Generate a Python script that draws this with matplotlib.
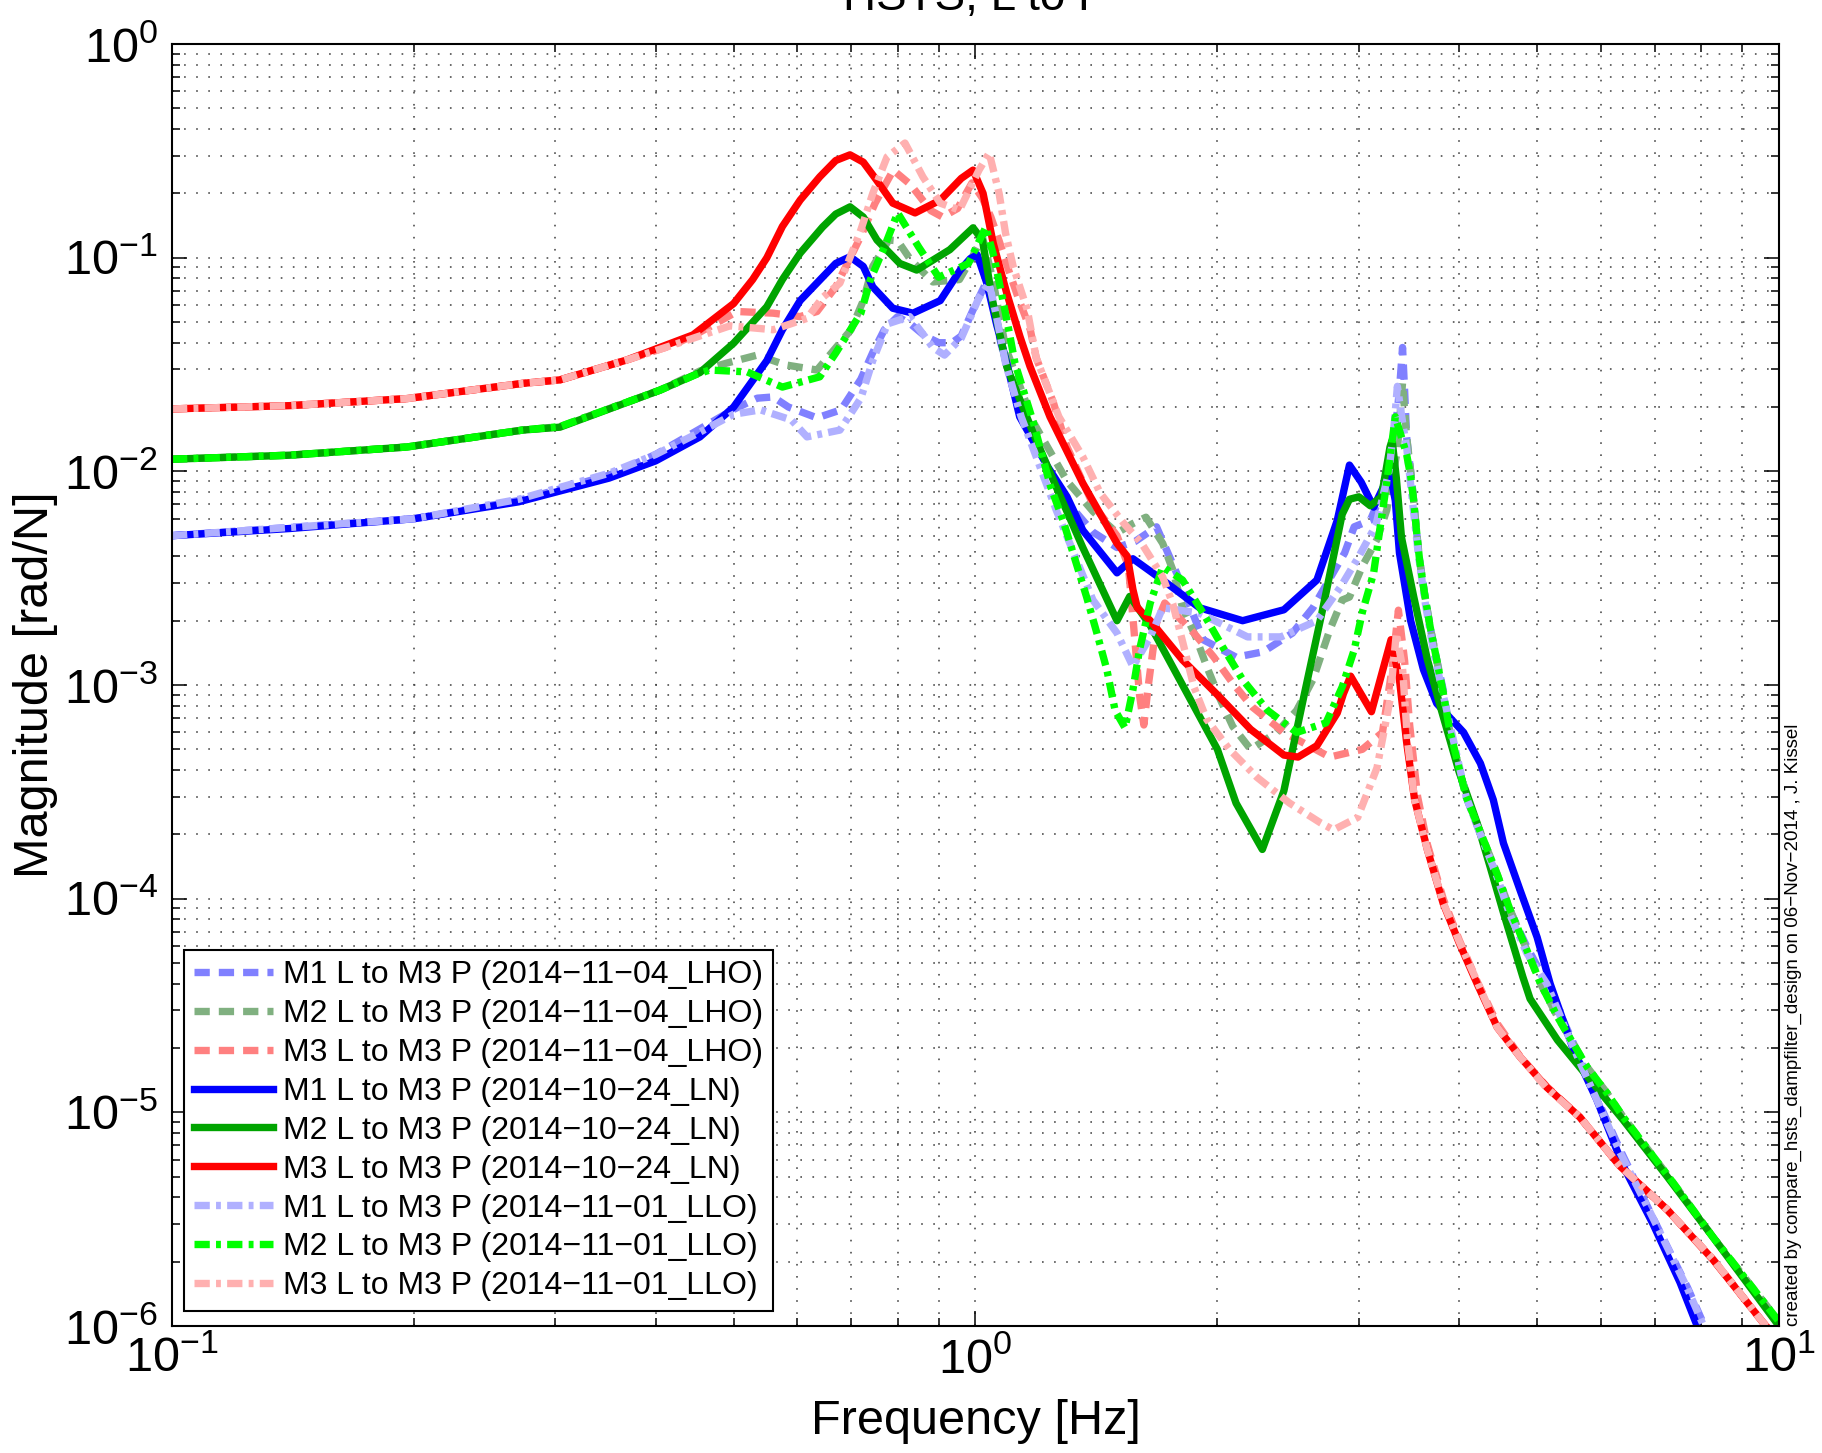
import matplotlib
matplotlib.use('Agg')
import matplotlib.pyplot as plt
from matplotlib.ticker import LogLocator, NullFormatter

plt.rcParams['font.family'] = ['Liberation Sans', 'DejaVu Sans']
plt.rcParams['mathtext.fontset'] = 'custom'
plt.rcParams['mathtext.rm'] = 'Liberation Sans'
plt.rcParams['lines.scale_dashes'] = False

# ---- data (frequency [Hz], magnitude [rad/N]) ----
# M1 L to M3 P (2014-10-24_LN)  -- solid blue
f_m1_ln = [0.10, 0.14, 0.20, 0.27, 0.35, 0.40, 0.454, 0.50, 0.55, 0.575, 0.605, 0.645, 0.67, 0.698, 0.725,
           0.745, 0.789, 0.836, 0.904, 0.957, 0.985, 1.005, 1.033, 1.062, 1.094, 1.135, 1.23, 1.30, 1.36,
           1.50, 1.57, 1.73, 1.90, 2.15, 2.42, 2.66, 2.82, 2.92, 3.02, 3.13, 3.28, 3.33, 3.37, 3.48, 3.61,
           3.75, 4.05, 4.25, 4.41, 4.54, 4.76, 5.00, 5.19, 5.55, 5.93, 6.40, 6.97, 7.53, 7.91, 8.3]
m_m1_ln = [5.0e-3, 5.4e-3, 6.0e-3, 7.2e-3, 9.3e-3, 1.12e-2, 1.45e-2, 2.0e-2, 3.3e-2, 4.6e-2, 6.3e-2, 8.1e-2,
           9.4e-2, 0.101, 0.091, 0.073, 0.058, 0.055, 0.063, 0.0875, 0.099, 0.103, 0.076, 0.049, 0.032, 0.018,
           0.0105, 7.6e-3, 5.3e-3, 3.35e-3, 3.9e-3, 3.0e-3, 2.3e-3, 2.0e-3, 2.25e-3, 3.1e-3, 5.9e-3, 1.07e-2,
           8.9e-3, 6.8e-3, 9.8e-3, 7.3e-3, 4.15e-3, 2.0e-3, 1.18e-3, 8.2e-4, 6.0e-4, 4.3e-4, 2.9e-4, 1.82e-4,
           1.1e-4, 6.6e-5, 4.0e-5, 1.96e-5, 1.15e-5, 5.6e-6, 3.0e-6, 1.6e-6, 1.0e-6, 6.8e-7]

# M2 L to M3 P (2014-10-24_LN)  -- solid green
f_m2_ln = [0.10, 0.14, 0.196, 0.273, 0.304, 0.405, 0.454, 0.50, 0.55, 0.575, 0.605, 0.645, 0.67, 0.698,
           0.725, 0.754, 0.805, 0.845, 0.929, 0.993, 1.02, 1.05, 1.094, 1.18, 1.27, 1.36, 1.50, 1.556, 1.65,
           1.81, 2.0, 2.11, 2.275, 2.42, 2.56, 2.70, 2.86, 2.92, 3.0, 3.10, 3.20, 3.28, 3.30, 3.34, 3.39,
           3.51, 3.65, 3.79, 4.0, 4.21, 4.37, 4.54, 4.80, 4.90, 5.30, 5.82, 6.40, 7.26, 8.28, 10.0]
m_m2_ln = [1.14e-2, 1.19e-2, 1.30e-2, 1.56e-2, 1.61e-2, 2.4e-2, 2.9e-2, 3.98e-2, 5.9e-2, 7.9e-2, 0.105, 0.139,
           0.160, 0.173, 0.155, 0.121, 0.094, 0.0875, 0.109, 0.138, 0.121, 0.063, 0.0308, 0.0151, 7.9e-3,
           4.4e-3, 2.0e-3, 2.6e-3, 1.9e-3, 1.0e-3, 5.0e-4, 2.8e-4, 1.7e-4, 3.2e-4, 8.7e-4, 2.2e-3, 6.3e-3,
           7.4e-3, 7.6e-3, 6.9e-3, 7.6e-3, 1.3e-2, 1.4e-2, 9.3e-3, 4.9e-3, 2.6e-3, 1.32e-3, 7.9e-4, 3.9e-4,
           2.26e-4, 1.41e-4, 8.6e-5, 4.3e-5, 3.4e-5, 2.18e-5, 1.42e-5, 9.2e-6, 5.0e-6, 2.6e-6, 1.0e-6]

# M3 L to M3 P (2014-10-24_LN)  -- solid red
f_m3_ln = [0.10, 0.14, 0.196, 0.273, 0.304, 0.368, 0.445, 0.50, 0.528, 0.55, 0.575, 0.605, 0.64, 0.67,
           0.698, 0.725, 0.753, 0.789, 0.841, 0.904, 0.96, 0.993, 1.022, 1.052, 1.094, 1.136, 1.169, 1.238,
           1.36, 1.50, 1.545, 1.57, 1.59, 1.65, 1.81, 2.0, 2.2, 2.42, 2.52, 2.66, 2.82, 2.87, 2.93, 3.11,
           3.29, 3.37, 3.44, 3.52, 3.65, 3.82, 4.0, 4.21, 4.46, 4.76, 5.14, 5.65, 6.34, 7.26, 8.28, 9.55, 10.0]
m_m3_ln = [1.96e-2, 2.03e-2, 2.19e-2, 2.58e-2, 2.68e-2, 3.32e-2, 4.35e-2, 6.1e-2, 7.9e-2, 0.10, 0.14, 0.186,
           0.239, 0.285, 0.303, 0.28, 0.231, 0.18, 0.162, 0.186, 0.235, 0.257, 0.20, 0.117, 0.068, 0.0427,
           0.031, 0.018, 8.8e-3, 4.6e-3, 4.0e-3, 2.8e-3, 2.3e-3, 2.0e-3, 1.31e-3, 9.0e-4, 6.2e-4, 4.7e-4,
           4.6e-4, 5.2e-4, 7.4e-4, 9.1e-4, 1.1e-3, 7.5e-4, 1.63e-3, 1.06e-3, 5.4e-4, 2.9e-4, 1.7e-4, 9.5e-5,
           6.2e-5, 4.0e-5, 2.5e-5, 1.82e-5, 1.31e-5, 9.5e-6, 5.6e-6, 3.5e-6, 2.04e-6, 1.04e-6, 0.85e-6]

# M1 L to M3 P (2014-11-04_LHO)  -- dashed
f_m1_lho = [0.10, 0.20, 0.27, 0.35, 0.40, 0.45, 0.50, 0.535, 0.56, 0.585, 0.635, 0.68, 0.72, 0.745, 0.77,
            0.80, 0.83, 0.865, 0.90, 0.935, 0.96, 0.993, 1.03, 1.05, 1.075, 1.10, 1.14, 1.23, 1.30, 1.40,
            1.50, 1.58, 1.68, 1.795, 1.92, 2.11, 2.28, 2.48, 2.63, 2.88, 2.96, 3.10, 3.25, 3.33, 3.37, 3.40,
            3.42, 3.44, 3.48, 3.51, 3.54, 3.57, 3.62, 3.68, 3.75, 3.82, 3.89, 4.08, 4.25, 4.46, 4.62, 4.85,
            5.14, 5.55, 5.77, 6.34, 6.97, 7.69, 8.04, 8.4]
m_m1_lho = [5.0e-3, 6.0e-3, 7.3e-3, 9.6e-3, 1.2e-2, 1.55e-2, 1.95e-2, 2.2e-2, 2.23e-2, 2.0e-2, 1.78e-2,
            1.94e-2, 2.7e-2, 3.6e-2, 4.6e-2, 5.3e-2, 4.9e-2, 4.3e-2, 4.0e-2, 4.0e-2, 4.3e-2, 5.7e-2, 7.6e-2,
            6.2e-2, 4.0e-2, 2.9e-2, 1.9e-2, 1.05e-2, 7.2e-3, 5.2e-3, 4.4e-3, 4.7e-3, 5.5e-3, 3.1e-3, 1.63e-3,
            1.35e-3, 1.43e-3, 1.75e-3, 2.3e-3, 4.15e-3, 5.5e-3, 5.9e-3, 9.0e-3, 1.56e-2, 2.4e-2, 3.8e-2,
            2.4e-2, 1.45e-2, 1.0e-2, 7.3e-3, 5.2e-3, 3.85e-3, 2.7e-3, 1.87e-3, 1.31e-3, 9.5e-4, 6.0e-4,
            3.0e-4, 2.0e-4, 1.26e-4, 8.9e-5, 6.0e-5, 4.0e-5, 2.1e-5, 1.47e-5, 6.7e-6, 3.2e-6, 1.52e-6,
            1.04e-6, 7.0e-7]

# M2 L to M3 P (2014-11-04_LHO)  -- dashed
f_m2_lho = [0.10, 0.14, 0.196, 0.273, 0.304, 0.405, 0.454, 0.49, 0.535, 0.58, 0.635, 0.70, 0.725, 0.745,
            0.78, 0.80, 0.83, 0.885, 0.955, 0.99, 1.02, 1.05, 1.09, 1.18, 1.30, 1.40, 1.50, 1.57, 1.63, 1.71,
            1.76, 1.81, 1.88, 1.94, 2.01, 2.09, 2.20, 2.37, 2.51, 2.63, 2.76, 2.86, 2.92, 3.03, 3.16, 3.25,
            3.35, 3.40, 3.44, 3.48, 3.51, 3.54, 3.57, 3.62, 3.68, 3.75, 3.82, 3.89, 4.08, 4.25, 4.46, 4.62,
            4.85, 5.05, 5.30, 5.77, 6.11, 6.40, 7.26, 8.28, 10.0]
m_m2_lho = [1.14e-2, 1.19e-2, 1.30e-2, 1.56e-2, 1.62e-2, 2.4e-2, 2.95e-2, 3.21e-2, 3.5e-2, 3.15e-2, 2.98e-2,
            4.6e-2, 6.3e-2, 9.1e-2, 0.121, 0.12, 9.8e-2, 7.7e-2, 7.9e-2, 0.10, 0.125, 8.0e-2, 3.8e-2, 1.7e-2,
            9.0e-3, 6.5e-3, 5.15e-3, 5.7e-3, 6.1e-3, 4.6e-3, 3.46e-3, 2.3e-3, 1.68e-3, 1.22e-3, 8.8e-4,
            6.4e-4, 5.0e-4, 6.0e-4, 7.6e-4, 1.06e-3, 1.81e-3, 2.5e-3, 2.58e-3, 3.6e-3, 4.8e-3, 6.6e-3,
            1.26e-2, 2.6e-2, 1.45e-2, 1.0e-2, 7.3e-3, 5.2e-3, 3.85e-3, 2.7e-3, 1.87e-3, 1.31e-3, 9.2e-4,
            6.2e-4, 3.0e-4, 2.05e-4, 1.3e-4, 9.0e-5, 5.8e-5, 4.0e-5, 2.8e-5, 1.63e-5, 1.23e-5, 9.5e-6,
            5.1e-6, 2.6e-6, 1.05e-6]

# M3 L to M3 P (2014-11-04_LHO)  -- dashed
f_m3_lho = [0.10, 0.14, 0.196, 0.273, 0.304, 0.368, 0.42, 0.45, 0.505, 0.56, 0.605, 0.635, 0.67, 0.72,
            0.75, 0.79, 0.83, 0.88, 0.91, 0.95, 0.99, 1.02, 1.045, 1.07, 1.10, 1.13, 1.17, 1.19, 1.25, 1.30,
            1.40, 1.50, 1.55, 1.575, 1.60, 1.62, 1.64, 1.68, 1.72, 1.87, 1.98, 2.09, 2.21, 2.42, 2.76, 3.03,
            3.21, 3.30, 3.36, 3.42, 3.47, 3.55, 3.65, 3.82, 4.0, 4.21, 4.46, 4.76, 5.14, 5.65, 6.34, 7.26,
            8.28, 9.55, 10.0]
m_m3_lho = [1.96e-2, 2.03e-2, 2.19e-2, 2.58e-2, 2.68e-2, 3.32e-2, 3.9e-2, 4.4e-2, 5.6e-2, 5.5e-2, 5.3e-2,
            5.6e-2, 7.3e-2, 0.126, 0.18, 0.257, 0.22, 0.166, 0.155, 0.17, 0.224, 0.19, 0.155, 0.12, 8.7e-2,
            6.5e-2, 4.6e-2, 3.4e-2, 2.1e-2, 1.3e-2, 7.0e-3, 5.0e-3, 3.6e-3, 1.8e-3, 9.0e-4, 6.5e-4, 9.8e-4,
            1.95e-3, 2.42e-3, 1.75e-3, 1.35e-3, 1.02e-3, 7.9e-4, 6.0e-4, 4.6e-4, 5.0e-4, 6.0e-4, 1.2e-3,
            2.24e-3, 1.3e-3, 6.5e-4, 3.0e-4, 1.8e-4, 1.0e-4, 6.4e-5, 4.1e-5, 2.6e-5, 1.83e-5, 1.32e-5,
            9.5e-6, 5.6e-6, 3.5e-6, 2.05e-6, 1.04e-6, 0.85e-6]

# M1 L to M3 P (2014-11-01_LLO)  -- dash-dot
f_m1_llo = [0.10, 0.20, 0.27, 0.35, 0.40, 0.45, 0.50, 0.54, 0.59, 0.617, 0.678, 0.72, 0.745, 0.777, 0.828,
            0.86, 0.885, 0.915, 0.96, 1.01, 1.04, 1.06, 1.09, 1.14, 1.26, 1.40, 1.50, 1.57, 1.65, 1.71, 1.90,
            2.18, 2.40, 2.66, 2.85, 3.0, 3.15, 3.27, 3.32, 3.35, 3.40, 3.44, 3.50, 3.56, 3.63, 3.72, 3.85,
            4.08, 4.25, 4.46, 4.62, 4.85, 5.14, 5.55, 5.90, 6.34, 6.97, 7.69, 8.04, 8.4]
m_m1_llo = [5.0e-3, 6.0e-3, 7.4e-3, 9.8e-3, 1.2e-2, 1.5e-2, 1.85e-2, 1.94e-2, 1.74e-2, 1.45e-2, 1.56e-2,
            2.2e-2, 3.3e-2, 4.9e-2, 5.3e-2, 4.4e-2, 3.8e-2, 3.5e-2, 4.2e-2, 6.5e-2, 7.6e-2, 5.5e-2, 3.2e-2,
            1.8e-2, 6.6e-3, 2.5e-3, 1.75e-3, 1.22e-3, 1.68e-3, 2.3e-3, 2.17e-3, 1.68e-3, 1.68e-3, 2.0e-3,
            2.9e-3, 4.0e-3, 5.6e-3, 1.0e-2, 1.66e-2, 2.5e-2, 1.7e-2, 1.3e-2, 7.1e-3, 4.0e-3, 2.4e-3, 1.41e-3,
            7.9e-4, 3.0e-4, 2.0e-4, 1.26e-4, 8.5e-5, 5.6e-5, 4.0e-5, 2.0e-5, 1.2e-5, 6.5e-6, 3.2e-6, 1.5e-6,
            1.02e-6, 7.0e-7]

# M2 L to M3 P (2014-11-01_LLO)  -- dash-dot
f_m2_llo = [0.10, 0.14, 0.196, 0.273, 0.304, 0.405, 0.45, 0.467, 0.52, 0.575, 0.64, 0.67, 0.72, 0.74, 0.77,
            0.80, 0.85, 0.90, 0.98, 1.03, 1.055, 1.08, 1.10, 1.12, 1.18, 1.24, 1.285, 1.375, 1.416, 1.457,
            1.492, 1.535, 1.57, 1.60, 1.65, 1.71, 1.81, 1.92, 2.03, 2.15, 2.31, 2.51, 2.73, 2.86, 2.96, 3.03,
            3.13, 3.18, 3.25, 3.33, 3.38, 3.44, 3.48, 3.51, 3.54, 3.57, 3.62, 3.68, 3.75, 3.82, 3.89, 4.08,
            4.25, 4.46, 4.62, 4.85, 5.05, 5.30, 5.77, 6.11, 6.40, 7.26, 8.28, 10.0]
m_m2_llo = [1.14e-2, 1.19e-2, 1.30e-2, 1.56e-2, 1.62e-2, 2.4e-2, 2.85e-2, 2.98e-2, 2.92e-2, 2.48e-2, 2.77e-2,
            3.58e-2, 5.5e-2, 7.9e-2, 0.112, 0.162, 0.112, 8.1e-2, 9.4e-2, 0.139, 0.10, 6.5e-2, 4.6e-2, 3.2e-2,
            1.7e-2, 8.5e-3, 5.9e-3, 2.58e-3, 1.75e-3, 1.18e-3, 7.6e-4, 6.3e-4, 9.5e-4, 1.46e-3, 2.42e-3,
            3.57e-3, 3.1e-3, 2.17e-3, 1.51e-3, 1.06e-3, 7.6e-4, 6.0e-4, 6.65e-4, 9.8e-4, 1.46e-3, 2.19e-3,
            3.35e-3, 5.1e-3, 8.9e-3, 1.8e-2, 1.5e-2, 1.2e-2, 9.5e-3, 7.3e-3, 5.2e-3, 3.85e-3, 2.7e-3, 1.87e-3,
            1.31e-3, 9.2e-4, 6.2e-4, 3.0e-4, 2.05e-4, 1.3e-4, 9.0e-5, 5.8e-5, 4.0e-5, 2.8e-5, 1.63e-5,
            1.23e-5, 9.5e-6, 5.1e-6, 2.6e-6, 1.05e-6]

# M3 L to M3 P (2014-11-01_LLO)  -- dash-dot
f_m3_llo = [0.10, 0.14, 0.196, 0.273, 0.304, 0.368, 0.42, 0.495, 0.56, 0.617, 0.645, 0.678, 0.72, 0.745,
            0.776, 0.817, 0.86, 0.904, 0.955, 1.01, 1.04, 1.07, 1.09, 1.114, 1.16, 1.19, 1.27, 1.36, 1.43,
            1.53, 1.61, 1.71, 1.76, 1.81, 1.87, 1.94, 2.07, 2.24, 2.46, 2.69, 2.79, 2.99, 3.16, 3.28, 3.34,
            3.40, 3.45, 3.52, 3.65, 3.82, 4.0, 4.21, 4.46, 4.76, 5.14, 5.65, 6.34, 7.26, 8.28, 9.55, 10.0]
m_m3_llo = [1.96e-2, 2.03e-2, 2.19e-2, 2.58e-2, 2.68e-2, 3.32e-2, 3.9e-2, 4.8e-2, 4.6e-2, 5.2e-2, 6.5e-2,
            7.6e-2, 0.135, 0.20, 0.296, 0.344, 0.239, 0.18, 0.167, 0.257, 0.309, 0.20, 0.13, 9.1e-2, 5.7e-2,
            3.4e-2, 1.8e-2, 1.17e-2, 7.9e-3, 5.7e-3, 4.6e-3, 3.2e-3, 2.4e-3, 1.6e-3, 9.8e-4, 6.9e-4, 5.0e-4,
            3.7e-4, 2.8e-4, 2.26e-4, 2.1e-4, 2.4e-4, 4.1e-4, 8.5e-4, 1.75e-3, 1.2e-3, 5.4e-4, 2.9e-4, 1.7e-4,
            9.6e-5, 6.3e-5, 4.1e-5, 2.5e-5, 1.82e-5, 1.3e-5, 9.5e-6, 5.6e-6, 3.5e-6, 2.05e-6, 1.04e-6, 0.85e-6]

labels_lho = ['M1 L to M3 P (2014\u221211\u221204_LHO)', 'M2 L to M3 P (2014\u221211\u221204_LHO)',
              'M3 L to M3 P (2014\u221211\u221204_LHO)']
labels_ln = ['M1 L to M3 P (2014\u221210\u221224_LN)', 'M2 L to M3 P (2014\u221210\u221224_LN)',
             'M3 L to M3 P (2014\u221210\u221224_LN)']
labels_llo = ['M1 L to M3 P (2014\u221211\u221201_LLO)', 'M2 L to M3 P (2014\u221211\u221201_LLO)',
              'M3 L to M3 P (2014\u221211\u221201_LLO)']

fig = plt.figure(figsize=(18.22, 14.53), dpi=100)
ax = fig.add_axes([0.0944, 0.0874, 0.8820, 0.8823])

lw = 5.3
dash = (0, (11, 6.5))
dashdot = (0, (11, 4.5, 3.5, 4.5))

# LHO (dashed) first, then LN (solid), then LLO (dash-dot) on top
ax.loglog(f_m1_lho, m_m1_lho, color='#8080ff', lw=lw, ls=dash, label=labels_lho[0])
ax.loglog(f_m2_lho, m_m2_lho, color='#80b080', lw=lw, ls=dash, label=labels_lho[1])
ax.loglog(f_m3_lho, m_m3_lho, color='#ff8080', lw=lw, ls=dash, label=labels_lho[2])
ax.loglog(f_m1_ln, m_m1_ln, color='#0000ff', lw=lw, label=labels_ln[0])
ax.loglog(f_m2_ln, m_m2_ln, color='#00a400', lw=lw, label=labels_ln[1])
ax.loglog(f_m3_ln, m_m3_ln, color='#ff0000', lw=lw, label=labels_ln[2])
ax.loglog(f_m1_llo, m_m1_llo, color='#b0b0ff', lw=lw, ls=dashdot, label=labels_llo[0])
ax.loglog(f_m2_llo, m_m2_llo, color='#00ff00', lw=lw, ls=dashdot, label=labels_llo[1])
ax.loglog(f_m3_llo, m_m3_llo, color='#ffb0b0', lw=lw, ls=dashdot, label=labels_llo[2])

ax.set_xlim(0.1, 10)
ax.set_ylim(1e-6, 1)
ax.xaxis.set_minor_locator(LogLocator(base=10, subs=range(2, 10), numticks=50))
ax.yaxis.set_minor_locator(LogLocator(base=10, subs=range(2, 10), numticks=50))
ax.xaxis.set_minor_formatter(NullFormatter())
ax.yaxis.set_minor_formatter(NullFormatter())

ax.set_axisbelow(True)
ax.grid(True, which='both', ls=(0, (1.2, 7.5)), color='0.25', lw=1.1)
ax.tick_params(which='both', direction='in', top=True, right=True, width=1.1, labelsize=35)
ax.tick_params(which='major', length=11)
ax.tick_params(which='minor', length=6)
ax.tick_params(axis='x', pad=8)
ax.tick_params(axis='y', pad=10)
for s in ax.spines.values():
    s.set_linewidth(1.5)

ax.set_xlabel('Frequency [Hz]', fontsize=35)
ax.set_ylabel('Magnitude [rad/N]', fontsize=35)
ax.xaxis.set_label_coords(0.5, -0.057)
ax.yaxis.set_label_coords(-0.071, 0.5)

fig.text(0.5353, 1 - 10 / 1453, 'HSTS, L to P', ha='center', va='baseline', fontsize=33)

leg = ax.legend(loc='lower left', bbox_to_anchor=(0.0075, 0.0117), borderaxespad=0, fontsize=23,
                frameon=True, fancybox=False, framealpha=1, edgecolor='black', handlelength=2.5,
                handletextpad=0.3, labelspacing=0.28, borderpad=0.3)
leg.get_frame().set_linewidth(1.5)

fig.text(1793 / 1822, 127 / 1453,
         'created by compare_hsts_dampfilter_design on 06\u2212Nov\u22122014 , J. Kissel',
         rotation=90, ha='center', va='bottom', fontsize=13.5)

fig.savefig('out.png', dpi=100)
